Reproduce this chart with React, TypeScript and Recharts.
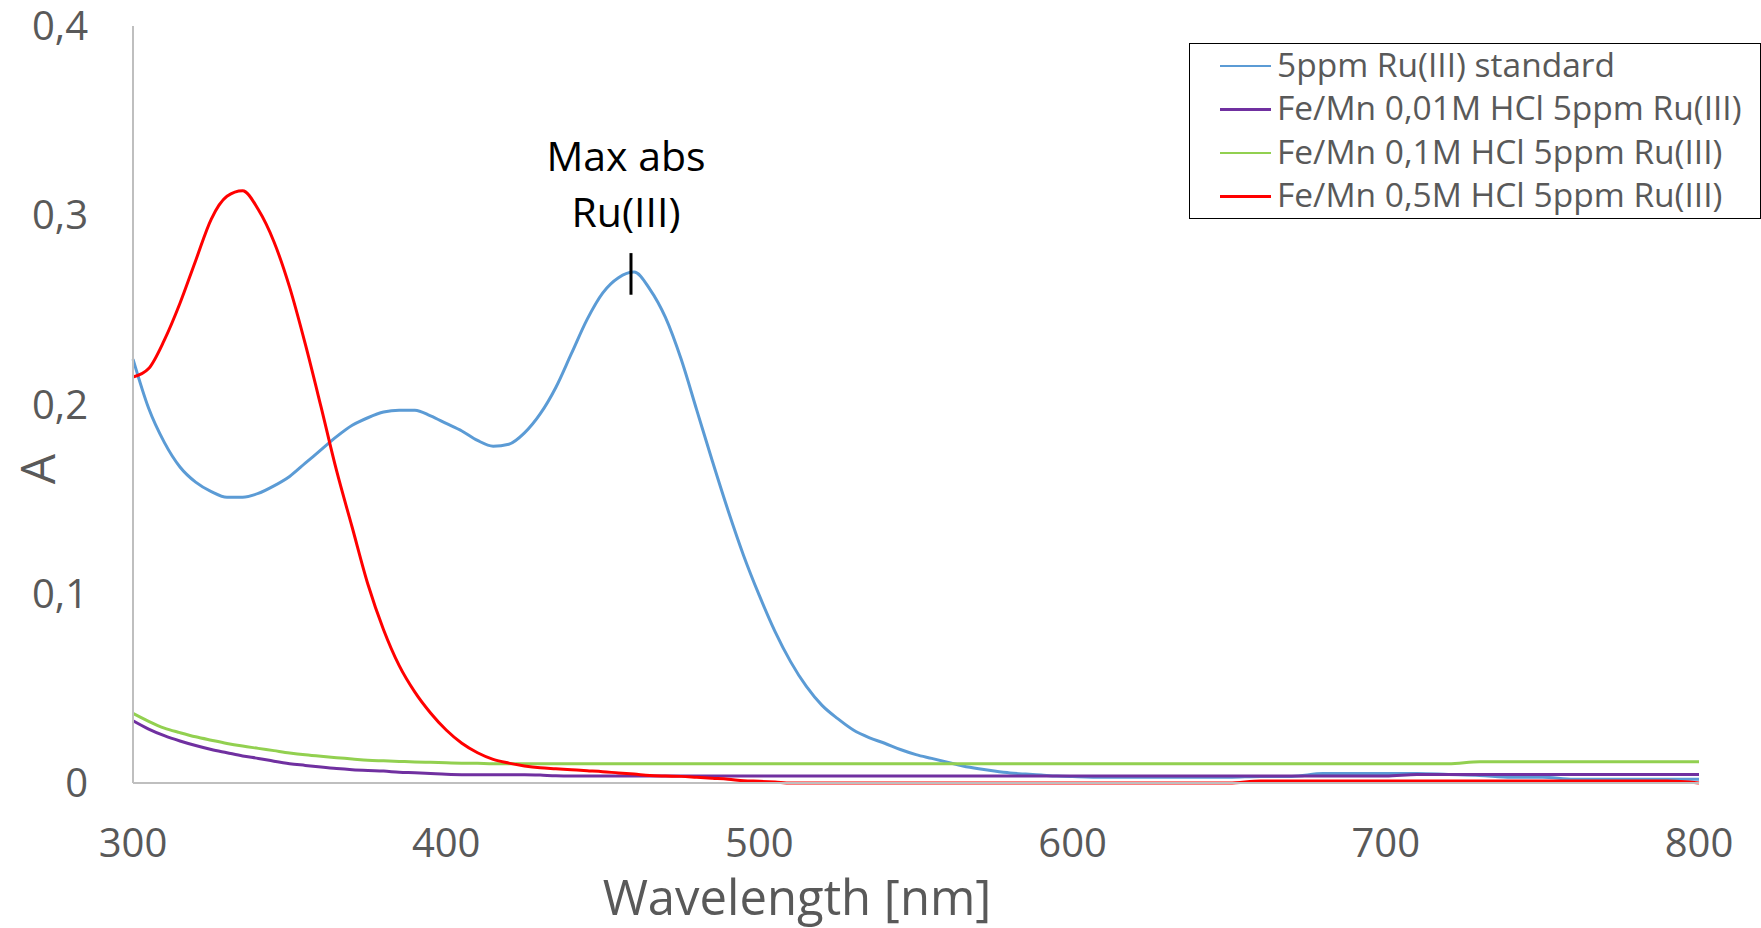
import { LineChart, Line, XAxis, YAxis, Legend, ReferenceLine, Label } from 'recharts';

const wavelengths = [
  300, 305, 310, 315, 320, 325, 330, 335, 340, 345,
  350, 355, 360, 365, 370, 375, 380, 385, 390, 395,
  400, 405, 410, 415, 420, 425, 430, 435, 440, 445,
  450, 455, 460, 465, 470, 475, 480, 485, 490, 495,
  500, 505, 510, 515, 520, 525, 530, 535, 540, 545,
  550, 555, 560, 565, 570, 575, 580, 585, 590, 595,
  600,
  610, 620, 630, 640, 650, 660, 670, 680, 690, 700,
  710, 720, 730, 740, 750, 760, 770, 780, 790, 800,
];

const ruStandard = [
  0.224, 0.198, 0.180, 0.167, 0.159, 0.154, 0.151, 0.151, 0.153, 0.157,
  0.162, 0.169, 0.176, 0.183, 0.189, 0.193, 0.196, 0.197, 0.197, 0.194,
  0.190, 0.186, 0.181, 0.178, 0.179, 0.185, 0.195, 0.209, 0.227, 0.245,
  0.259, 0.267, 0.270, 0.261, 0.246, 0.224, 0.197, 0.170, 0.144, 0.120,
  0.099, 0.080, 0.064, 0.051, 0.041, 0.034, 0.028, 0.024, 0.021, 0.0177,
  0.015, 0.013, 0.011, 0.009, 0.0075, 0.0063, 0.0053, 0.0047, 0.0042, 0.0037,
  0.0034,
  0.003, 0.003, 0.003, 0.003, 0.003, 0.0035, 0.0035, 0.005, 0.005, 0.005,
  0.005, 0.0045, 0.004, 0.003, 0.003, 0.002, 0.002, 0.002, 0.002, 0.002,
];

const hcl001 = [
  0.0329, 0.0285, 0.025, 0.0222, 0.0198, 0.0177, 0.016, 0.0143, 0.013, 0.0115,
  0.0102, 0.0093, 0.0084, 0.0076, 0.007, 0.0066, 0.0063, 0.0057, 0.0054, 0.005,
  0.0046, 0.0044, 0.0044, 0.0044, 0.0044, 0.0044, 0.0042, 0.0038, 0.0037, 0.0037,
  0.0037, 0.0037, 0.0037, 0.0037, 0.0037, 0.0037, 0.0037, 0.0037, 0.0037, 0.0037,
  0.0037, 0.0037, 0.0037, 0.0037, 0.0037, 0.0037, 0.0037, 0.0037, 0.0037, 0.0037,
  0.0037, 0.0037, 0.0037, 0.0037, 0.0037, 0.0037, 0.0037, 0.0037, 0.0037, 0.0037,
  0.0037,
  0.0037, 0.0037, 0.0037, 0.0037, 0.0037, 0.0037, 0.0037, 0.0037, 0.0037, 0.0037,
  0.0045, 0.0045, 0.0045, 0.0045, 0.0045, 0.0045, 0.0045, 0.0045, 0.0045, 0.0045,
];

const hcl01 = [
  0.0368, 0.0326, 0.029, 0.0266, 0.0244, 0.0226, 0.0209, 0.0195, 0.0183, 0.0171,
  0.0159, 0.0149, 0.0141, 0.0134, 0.0127, 0.012, 0.0117, 0.0114, 0.0111, 0.0109,
  0.0107, 0.0105, 0.0104, 0.0102, 0.0102, 0.0102, 0.0102, 0.0102, 0.0102, 0.0102,
  0.0102, 0.0102, 0.0102, 0.0102, 0.0102, 0.0102, 0.0102, 0.0102, 0.0102, 0.0102,
  0.0102, 0.0102, 0.0102, 0.0102, 0.0102, 0.0102, 0.0102, 0.0102, 0.0102, 0.0102,
  0.0102, 0.0102, 0.0102, 0.0102, 0.0102, 0.0102, 0.0102, 0.0102, 0.0102, 0.0102,
  0.0102,
  0.0102, 0.0102, 0.0102, 0.0102, 0.0102, 0.0102, 0.0102, 0.0102, 0.0102, 0.0102,
  0.0102, 0.0102, 0.0112, 0.0112, 0.0112, 0.0112, 0.0112, 0.0112, 0.0112, 0.0112,
];

const hcl05 = [
  0.2145, 0.219, 0.234, 0.2535, 0.276, 0.298, 0.310, 0.313, 0.303, 0.286,
  0.262, 0.232, 0.199, 0.165, 0.135, 0.105, 0.081, 0.062, 0.048, 0.037,
  0.028, 0.021, 0.016, 0.0125, 0.0105, 0.009, 0.008, 0.0075, 0.007, 0.0065,
  0.006, 0.0053, 0.0047, 0.004, 0.0037, 0.0035, 0.003, 0.0025, 0.002, 0.0012,
  0.0009, 0.0005, 0, 0, 0, 0, 0, 0, 0, 0,
  0, 0, 0, 0, 0, 0, 0, 0, 0, 0,
  0,
  0, 0, 0, 0, 0, 0.001, 0.001, 0.001, 0.001, 0.001,
  0.001, 0.001, 0.001, 0.001, 0.001, 0.001, 0.001, 0.001, 0.001, 0,
];

const xTicks = [300, 400, 500, 600, 700, 800];
const yTicks = [0, 0.1, 0.2, 0.3, 0.4];

const series = [
  { key: 'std', name: '5ppm Ru(III) standard', color: '#5B9BD5' },
  { key: 'h001', name: 'Fe/Mn 0,01M HCl 5ppm Ru(III)', color: '#7030A0' },
  { key: 'h01', name: 'Fe/Mn 0,1M HCl 5ppm Ru(III)', color: '#92D050' },
  { key: 'h05', name: 'Fe/Mn 0,5M HCl 5ppm Ru(III)', color: '#FF0000' },
];

const data = wavelengths.map((w, i) => ({
  w,
  std: ruStandard[i],
  h001: hcl001[i],
  h01: hcl01[i],
  h05: hcl05[i],
}));

const FONT = '"Open Sans", sans-serif';
const GREY = '#595959';

function LegendBox() {
  return (
    <div
      style={{
        border: '1.5px solid #000',
        background: '#fff',
        boxSizing: 'border-box',
        width: 572,
        height: 176,
        paddingLeft: 30,
        fontFamily: FONT,
        fontSize: 33.5,
        color: GREY,
      }}
    >
      {series.map((s) => (
        <div key={s.key} style={{ display: 'flex', alignItems: 'center', height: 43.5, whiteSpace: 'nowrap' }}>
          <span style={{ display: 'inline-block', width: 51, height: 2.5, background: s.color, marginRight: 6 }} />
          <span style={{ position: 'relative', top: -2 }}>{s.name}</span>
        </div>
      ))}
    </div>
  );
}

function PeakLabel(props: any) {
  const { viewBox } = props;
  const cx = viewBox.x - 5;
  const top = viewBox.y;
  return (
    <g fontFamily={FONT} fontSize={41} fill="#000" textAnchor="middle">
      <text x={cx} y={top - 82}>Max abs</text>
      <text x={cx} y={top - 26}>Ru(III)</text>
    </g>
  );
}

export default function App() {
  return (
    <div style={{ position: 'absolute', left: 0, top: 0, background: '#fff' }}>
      <LineChart
        width={1761}
        height={928}
        data={data}
        margin={{ top: 26, right: 62, bottom: 85, left: 0 }}
        style={{ fontFamily: FONT }}
      >
        <XAxis
          dataKey="w"
          type="number"
          domain={[300, 800]}
          ticks={xTicks}
          tickLine={false}
          tickSize={0}
          tickMargin={46}
          height={60}
          axisLine={{ stroke: '#BFBFBF', strokeWidth: 2 }}
          tick={{ fill: GREY, fontSize: 40, fontFamily: FONT }}
        >
          <Label
            content={(p: any) => (
              <text
                x={p.viewBox.x + 664}
                y={p.viewBox.y + 132}
                textAnchor="middle"
                fontFamily={FONT}
                fontSize={49}
                fill={GREY}
              >
                Wavelength [nm]
              </text>
            )}
          />
        </XAxis>
        <YAxis
          type="number"
          domain={[0, 0.4]}
          ticks={yTicks}
          width={133}
          tickLine={false}
          tickSize={0}
          tickMargin={45}
          axisLine={{ stroke: '#BFBFBF', strokeWidth: 2 }}
          tick={{ fill: GREY, fontSize: 40, fontFamily: FONT }}
          tickFormatter={(v: number) => String(v).replace('.', ',')}
        >
          <Label
            content={(p: any) => {
              const x = p.viewBox.x + 55;
              const y = p.viewBox.y + 443;
              return (
                <text
                  x={x}
                  y={y}
                  transform={`rotate(-90 ${x} ${y})`}
                  textAnchor="middle"
                  fontFamily={FONT}
                  fontSize={48}
                  fill={GREY}
                >
                  A
                </text>
              );
            }}
          />
        </YAxis>
        {series.map((s) => (
          <Line
            key={s.key}
            type="monotone"
            dataKey={s.key}
            name={s.name}
            stroke={s.color}
            strokeWidth={3}
            dot={false}
            activeDot={false}
            isAnimationActive={false}
          />
        ))}
        <ReferenceLine
          segment={[
            { x: 459, y: 0.258 },
            { x: 459, y: 0.28 },
          ]}
          stroke="#000"
          strokeWidth={3}
          label={<PeakLabel />}
        />
        <Legend
          layout="horizontal"
          verticalAlign="middle"
          align="center"
          wrapperStyle={{ left: 1189, top: 43, width: 572, height: 176 }}
          content={() => <LegendBox />}
        />
      </LineChart>
    </div>
  );
}
